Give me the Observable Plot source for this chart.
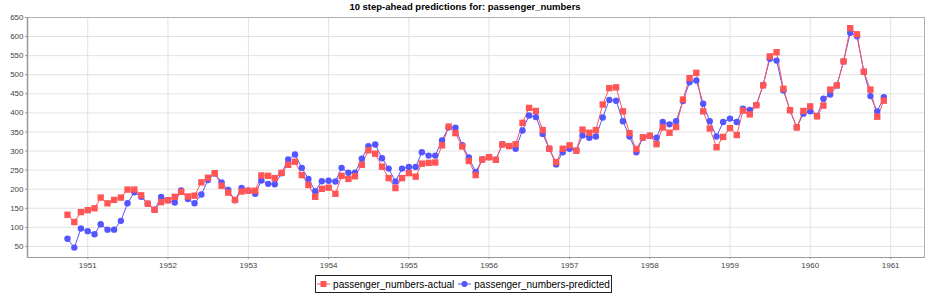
<!DOCTYPE html>
<html>
<head>
<meta charset="utf-8">
<script src="https://cdn.jsdelivr.net/npm/d3@7"></script>
<script src="https://cdn.jsdelivr.net/npm/@observablehq/plot@0.6"></script>
<style>
  html, body { margin: 0; padding: 0; background: #fff; }
  body { width: 930px; height: 294px; overflow: hidden; position: relative;
         font-family: "Liberation Sans", Arial, sans-serif; }
  #title { position: absolute; left: 0; top: 0; width: 930px; height: 14px; line-height: 14px;
           text-align: center; font-weight: bold; font-size: 9.5px; color: #000; }
  #chart { position: absolute; left: 0; top: 14px; }
  #chart svg { display: block; }
  #legend { position: absolute; left: 315px; top: 275px; width: 297px; height: 18px;
            box-sizing: border-box; border: 1px solid #222; background: #fff;
            display: flex; align-items: center; justify-content: center; gap: 4px;
            font-size: 10px; color: #000; white-space: nowrap; }
  #legend .item { display: flex; align-items: center; gap: 3px; }
  #legend svg { display: block; }
</style>
</head>
<body>
<div id="title"></div>
<div id="chart"></div>
<div id="legend"></div>
<script>
// ---- data ----
const chartTitle = "10 step-ahead predictions for: passenger_numbers";
const seriesNames = ["passenger_numbers-actual", "passenger_numbers-predicted"];
const seriesColors = ["#ff5555", "#5555ff"];
const firstMonth = "1950-10-01"; // first plotted month (monthly data)

const actual = [
  133, 114, 140,
  145, 150, 178, 163, 172, 178, 199, 199, 184, 162, 146, 166,
  171, 180, 193, 181, 183, 218, 230, 242, 209, 191, 172, 194,
  196, 196, 236, 235, 229, 243, 264, 272, 237, 211, 180, 201,
  204, 188, 235, 227, 234, 264, 302, 293, 259, 229, 203, 229,
  242, 233, 267, 269, 270, 315, 364, 347, 312, 274, 237, 278,
  284, 277, 317, 313, 318, 374, 413, 405, 355, 306, 271, 306,
  315, 301, 356, 348, 355, 422, 465, 467, 404, 347, 305, 336,
  340, 318, 362, 348, 363, 435, 491, 505, 404, 359, 310, 337,
  360, 342, 406, 396, 420, 472, 548, 559, 463, 407, 362, 405,
  417, 391, 419, 461, 472, 535, 622, 606, 508, 461, 390, 432
];

const predicted = [
  70, 47, 97,
  90, 82, 108, 94, 94, 117, 163, 192, 180, 162, 146, 180,
  171, 165, 197, 174, 163, 186, 224, 241, 218, 198, 171, 203,
  196, 188, 223, 214, 213, 242, 278, 291, 256, 227, 195, 221,
  222, 220, 256, 243, 243, 280, 313, 317, 281, 254, 220, 254,
  258, 258, 297, 288, 288, 328, 362, 361, 315, 283, 245, 278,
  284, 277, 318, 313, 306, 354, 393, 389, 345, 306, 265, 297,
  306, 301, 341, 335, 338, 388, 434, 432, 378, 338, 297, 335,
  340, 335, 376, 370, 378, 431, 480, 485, 424, 378, 338, 376,
  385, 376, 411, 408, 421, 473, 542, 537, 459, 407, 362, 398,
  404, 392, 437, 448, 472, 535, 610, 601, 508, 444, 404, 441
];

const yearTicks = ["1951","1952","1953","1954","1955","1956","1957","1958","1959","1960","1961"];
const yTicks = [50,100,150,200,250,300,350,400,450,500,550,600,650];
const xDomain = ["1950-04-02", "1961-06-04"];
const yDomain = [21, 650];

// ---- build tables ----
const start = new Date(firstMonth + "T00:00:00Z");
const toRows = (vals, name) => vals.map((v, i) => ({date: d3.utcMonth.offset(start, i), value: v, series: name}));
const actualRows = toRows(actual, seriesNames[0]);
const predictedRows = toRows(predicted, seriesNames[1]);
const yearDates = yearTicks.map(y => new Date(y + "-01-01T00:00:00Z"));

const chart = Plot.plot({
  width: 930,
  height: 259,
  marginLeft: 27,
  marginRight: 6,
  marginTop: 3,
  marginBottom: 16,
  style: {fontFamily: "'Liberation Sans', Arial, sans-serif", fontSize: "8px", color: "#444", background: "#fff"},
  x: {type: "utc", domain: xDomain.map(d => new Date(d + "T00:00:00Z")), label: null},
  y: {domain: yDomain, label: null},
  marks: [
    Plot.gridX(yearDates, {stroke: "#e2e2e2", strokeOpacity: 1}),
    Plot.gridY(yTicks, {stroke: "#e2e2e2", strokeOpacity: 1}),
    Plot.frame({stroke: "#b0b0b0"}),
    Plot.axisX(yearDates, {tickSize: 2, tickPadding: 3, tickFormat: d3.utcFormat("%Y"), stroke: "#999", fill: "#444", label: null}),
    Plot.axisY(yTicks, {tickSize: 2, tickPadding: 2, stroke: "#999", fill: "#444", label: null}),
    Plot.ruleX([xDomain[0]].map(d => new Date(d + "T00:00:00Z")), {stroke: "#999", strokeWidth: 1.5}),
    Plot.ruleY([yDomain[0]], {stroke: "#999", strokeWidth: 1}),
    Plot.line(predictedRows, {x: "date", y: "value", stroke: seriesColors[1], strokeWidth: 1}),
    Plot.line(actualRows, {x: "date", y: "value", stroke: seriesColors[0], strokeWidth: 1}),
    Plot.dot(predictedRows, {x: "date", y: "value", symbol: "circle", r: 3.2, fill: seriesColors[1], stroke: "none"}),
    Plot.dot(actualRows, {x: "date", y: "value", symbol: "square", r: 3.6, fill: seriesColors[0], stroke: "none"})
  ]
});
document.getElementById("chart").appendChild(chart);
document.getElementById("title").textContent = chartTitle;

// ---- legend ----
const legend = document.getElementById("legend");
seriesNames.forEach((name, i) => {
  const item = document.createElement("div");
  item.className = "item";
  const icon = i === 0
    ? `<svg width="13" height="8"><line x1="0" y1="4" x2="13" y2="4" stroke="${seriesColors[0]}" stroke-width="1"/><rect x="3.5" y="1" width="6" height="6" fill="${seriesColors[0]}"/></svg>`
    : `<svg width="13" height="8"><line x1="0" y1="4" x2="13" y2="4" stroke="${seriesColors[1]}" stroke-width="1"/><circle cx="6.5" cy="4" r="3" fill="${seriesColors[1]}"/></svg>`;
  item.innerHTML = icon + `<span>${name}</span>`;
  legend.appendChild(item);
});
</script>
</body>
</html>
